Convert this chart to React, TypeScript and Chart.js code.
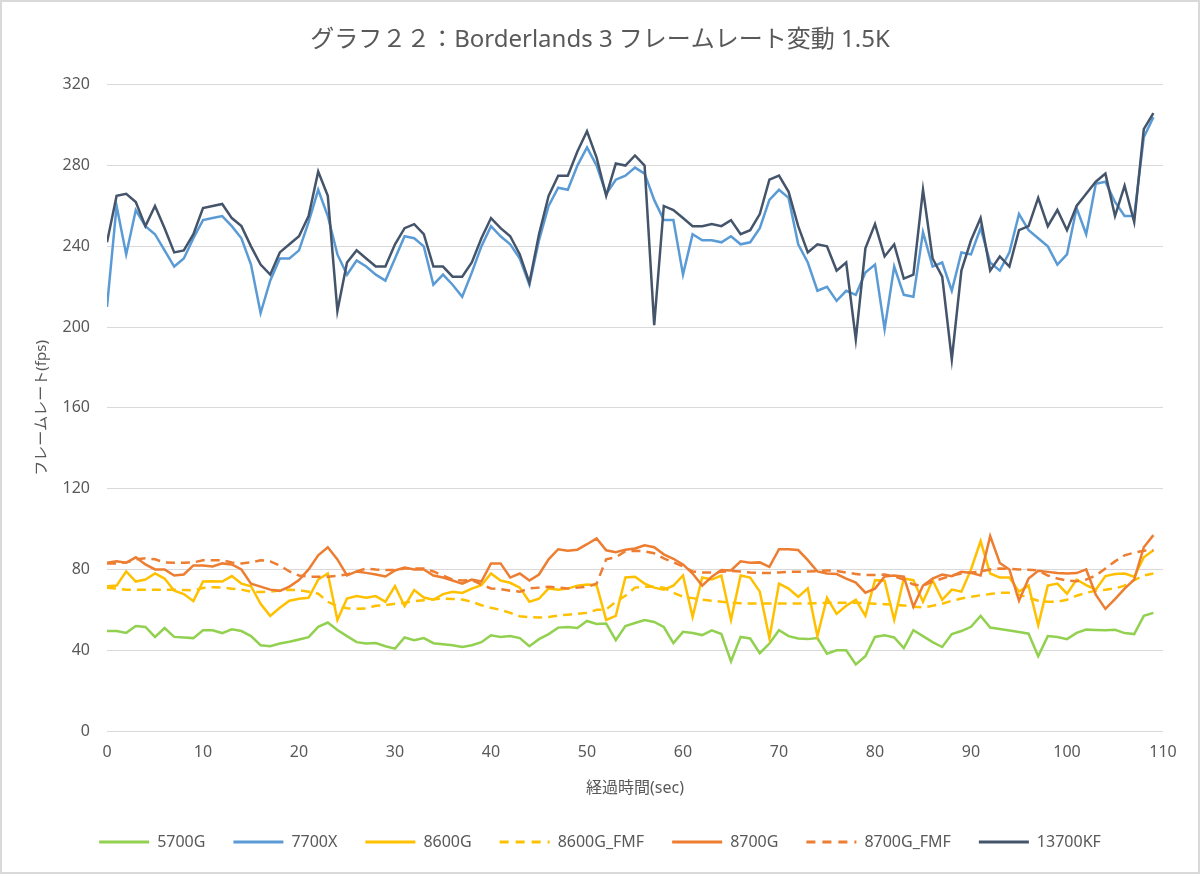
import React, { useEffect, useRef } from "react";
import { Chart, registerables } from "chart.js";

Chart.register(...registerables);

const TITLE = "グラフ２２：Borderlands 3 フレームレート変動 1.5K";
const X_TITLE = "経過時間(sec)";
const Y_TITLE = "フレームレート(fps)";
const FONT = '"Noto Sans", "Noto Sans CJK JP", sans-serif';
const TEXT_COLOR = "#595959";
const GRID_COLOR = "#d9d9d9";

const seconds = [
  0, 1, 2, 3, 4, 5, 6, 7, 8, 9, 10, 11, 12, 13, 14, 15, 16, 17, 18, 19,
  20, 21, 22, 23, 24, 25, 26, 27, 28, 29, 30, 31, 32, 33, 34, 35, 36, 37, 38, 39,
  40, 41, 42, 43, 44, 45, 46, 47, 48, 49, 50, 51, 52, 53, 54, 55, 56, 57, 58, 59,
  60, 61, 62, 63, 64, 65, 66, 67, 68, 69, 70, 71, 72, 73, 74, 75, 76, 77, 78, 79,
  80, 81, 82, 83, 84, 85, 86, 87, 88, 89, 90, 91, 92, 93, 94, 95, 96, 97, 98, 99,
  100, 101, 102, 103, 104, 105, 106, 107, 108, 109,
];

const fps5700G = [
  49.5, 49.5, 48.6, 52, 51.5, 46.6, 51, 46.6, 46.3, 46,
  49.9, 49.9, 48.5, 50.4, 49.5, 47, 42.5, 42, 43.3, 44.2,
  45.3, 46.5, 51.6, 53.7, 50, 47, 44, 43.3, 43.6, 42,
  40.8, 46.3, 45, 46, 43.5, 43, 42.5, 41.6, 42.5, 44,
  47.4, 46.6, 47, 46, 42, 45.5, 48, 51.2, 51.5, 51,
  54.5, 53, 53.2, 45, 52, 53.5, 54.9, 54, 51.5, 43.5,
  49.1, 48.5, 47.5, 49.8, 48, 34.5, 46.6, 45.8, 38.5, 43.3,
  49.9, 47, 45.8, 45.5, 46, 38.3, 40, 40, 33, 37,
  46.6, 47.4, 46.3, 41, 49.9, 47, 44, 41.6, 48, 49.5,
  51.6, 57, 51.2, 50.5, 49.8, 49, 48.2, 37, 47, 46.5,
  45.5, 48.6, 50.2, 50, 49.9, 50.1, 48.5, 48, 57, 58.5,
];

const fps7700X = [
  210, 260, 236, 258, 250, 246, 238, 230, 234, 244,
  253, 254, 255, 250, 244, 231, 207, 223, 234, 234,
  238, 252, 268, 255, 236, 226, 233, 230, 226, 223,
  234, 245, 244, 240, 221, 226, 221, 215, 227, 240,
  250, 245, 241, 234, 221, 243, 260, 269, 268, 280,
  289, 280, 266, 273, 275, 279, 276, 263, 253, 253,
  226, 246, 243, 243, 242, 245, 241, 242, 249, 263,
  268, 264, 241, 232, 218, 220, 213, 218, 216, 227,
  231, 199, 230, 216, 215, 247, 230, 232, 218, 237,
  236, 249, 232, 228, 237, 256, 248, 244, 240, 231,
  236, 259, 246, 271, 272, 262, 255, 255, 294, 304,
];

const fps8600G = [
  71.7, 72, 79, 74, 75, 78, 75.5, 69.5, 67.8, 64.3,
  74, 74.2, 74, 76.7, 73, 71.7, 63, 57, 61, 64.5,
  65.5, 66, 75, 78, 55, 65.6, 66.8, 66, 66.8, 64,
  71.7, 61.8, 69.8, 66.1, 65, 67.8, 68.9, 68.4, 70.5, 72.2,
  78, 74.5, 73.4, 71, 64, 65.5, 70.6, 70, 70.5, 72,
  72.5, 72.2, 55, 57, 76, 76.4, 73, 71, 70, 72,
  77, 56.5, 76, 75, 77, 55, 77, 76, 69, 46,
  73, 70.5, 66.4, 70.6, 47, 66, 58, 62, 65, 57,
  74.7, 74.4, 55, 75.5, 74.7, 64, 74.7, 65, 70, 69,
  80, 94, 78, 76, 76, 69, 72, 52.4, 72, 73,
  68, 75, 72.2, 70, 76.7, 77.7, 78, 76.4, 86, 89.5,
];

const fps8600G_FMF = [
  71, 70.5, 70, 70, 70, 70, 70, 70, 69.8, 69.6,
  70.8, 71.2, 71, 70.5, 70, 69, 68.8, 69, 69.6, 70,
  69.8, 69, 68, 64, 61.8, 60.8, 60.5, 60.7, 62, 62.3,
  63, 63.5, 64.3, 64.8, 65.3, 65.6, 65.4, 65.1, 64, 62.3,
  61, 60, 58.5, 56.8, 56.4, 56.2, 56.4, 57.2, 57.6, 58,
  58.5, 60, 60.2, 64, 67, 71, 71.4, 71.4, 71, 68.5,
  66.5, 65.8, 65, 64.5, 64, 63.6, 63.3, 63.1, 63.1, 63.1,
  63.1, 63.1, 63.2, 63.2, 63.3, 63.5, 63.5, 63.5, 63.5, 63.3,
  63, 62.8, 62.5, 62.2, 61.5, 61.2, 62, 63, 64.5, 65.6,
  66.5, 67.2, 67.8, 68.4, 68.4, 67.5, 66, 64.5, 64, 64,
  65, 67, 68.4, 69.5, 70, 70.6, 72, 74.7, 77, 78,
];

const fps8700G = [
  83.3, 84, 83.3, 86, 82.5, 80, 80, 77, 77.5, 82,
  82, 81.5, 83, 82.5, 80, 73, 71.5, 70, 69.4, 71.5,
  74.7, 80, 87, 91, 85, 77, 79, 78.3, 77.5, 76.5,
  79.5, 81, 80, 80, 77, 76, 74.5, 73, 75, 74,
  83, 83, 76, 78, 74.5, 77.5, 85, 90, 89.3, 89.8,
  92.5, 95.4, 89.5, 88.5, 89.8, 90.4, 92, 91, 87.5, 85.3,
  82.5, 78, 72, 76.4, 79.7, 79.5, 84, 83.3, 83.5, 81.3,
  90, 90, 89.6, 84.6, 79, 78, 77.7, 75.5, 73.5, 68.5,
  70.5, 76.5, 77, 76.4, 61.5, 72, 75.5, 77.5, 76.7, 78.8,
  78.3, 77, 96.5, 83.2, 80, 64.5, 75.5, 79.3, 78.8, 78.2,
  78, 78.2, 80, 67.5, 60.5, 65.3, 70.5, 75, 91, 97,
];

const fps8700G_FMF = [
  83, 83, 83.5, 85, 85.5, 85, 83.5, 83.3, 83.3, 83.5,
  84.5, 84.6, 84.6, 83.5, 83, 83.5, 84.6, 84, 82, 79,
  77, 76.4, 76.4, 76.4, 76.8, 77.5, 79, 80.5, 80, 79.7,
  79.7, 80.5, 80.5, 80.5, 79, 77, 75, 74.5, 74.7, 72.5,
  70.6, 70.3, 69.5, 69, 70.6, 71, 71.4, 71, 70.6, 71,
  71.4, 73, 85, 86, 89, 89.3, 89, 88, 85.5, 83.5,
  81.5, 79, 78.5, 78.5, 78.8, 79.2, 79, 78.5, 78.3, 78.3,
  78.5, 78.8, 78.8, 79, 79.2, 79.5, 79.3, 78.5, 77.8, 77.2,
  77.2, 77.5, 76.5, 75, 72.5, 72, 74, 75.5, 77, 78,
  78.5, 79, 80, 80.5, 80.3, 80, 79.8, 79.5, 77, 75.5,
  74.5, 74.2, 75, 77, 80.5, 84, 87, 88.3, 89.3, 89.5,
];

const fps13700KF = [
  242, 265, 266, 262, 250, 260, 249, 237, 238, 246,
  259, 260, 261, 254, 250, 240, 231, 226, 237, 241,
  245, 255, 277, 265, 208, 232, 238, 234, 230, 230,
  241, 249, 251, 246, 230, 230, 225, 225, 232, 244,
  254, 249, 245, 236, 222, 246, 265, 275, 275, 287,
  297, 284, 265, 281, 280, 285, 280, 201, 260, 258,
  254, 250, 250, 251, 250, 253, 246, 248, 256, 273,
  275, 267, 250, 237, 241, 240, 228, 232, 194, 239,
  251, 235, 241, 224, 226, 268, 234, 225, 184, 228,
  243, 254, 228, 235, 230, 248, 250, 264, 250, 258,
  248, 260, 266, 272, 276, 255, 270, 252, 298, 306,
];

const seriesLabels = ["5700G", "7700X", "8600G", "8600G_FMF", "8700G", "8700G_FMF", "13700KF"];
const seriesValues = [fps5700G, fps7700X, fps8600G, fps8600G_FMF, fps8700G, fps8700G_FMF, fps13700KF];
const seriesColors = ["#92d050", "#5b9bd5", "#ffc000", "#ffc000", "#ed7d31", "#ed7d31", "#44546a"];
const seriesDashed = [false, false, false, true, false, true, false];

const yTicks = { min: 0, max: 320, step: 40 };
const xTicks = { min: 0, max: 110, step: 10 };

export default function App() {
  const canvasRef = useRef<HTMLCanvasElement | null>(null);

  useEffect(() => {
    document.body.style.margin = "0";
    const canvas = canvasRef.current;
    if (!canvas) return;

    const datasets = seriesLabels.map((label, i) => ({
      label,
      data: seconds.map((t, k) => ({ x: t, y: seriesValues[i][k] })),
      borderColor: seriesColors[i],
      backgroundColor: seriesColors[i],
      borderWidth: 2.5,
      borderDash: seriesDashed[i] ? [9, 6] : [],
      pointRadius: 0,
      pointHoverRadius: 0,
      tension: 0,
      fill: false,
      order: seriesLabels.length - 1 - i,
    }));

    const defaultLabels = (Chart as any).defaults.plugins.legend.labels.generateLabels;

    const chart = new Chart(canvas, {
      type: "line",
      data: { datasets },
      options: {
        animation: false,
        responsive: false,
        devicePixelRatio: 1,
        layout: { padding: { left: 37, right: 37, top: 0, bottom: 14 } },
        plugins: {
          tooltip: { enabled: false },
          title: {
            display: true,
            text: TITLE,
            color: TEXT_COLOR,
            font: { family: FONT, size: 24, weight: "normal" },
            padding: { top: 26, bottom: 30 },
          },
          legend: {
            position: "bottom",
            labels: {
              color: TEXT_COLOR,
              font: { family: FONT, size: 16 },
              usePointStyle: true,
              pointStyle: "line",
              pointStyleWidth: 50,
              padding: 28,
              sort: (a: any, b: any) => a.datasetIndex - b.datasetIndex,
              generateLabels: (ch: any) =>
                defaultLabels(ch).map((it: any) => ({
                  ...it,
                  pointStyle: "line",
                  lineWidth: 3,
                  strokeStyle: seriesColors[it.datasetIndex],
                  fillStyle: seriesColors[it.datasetIndex],
                  lineDash: seriesDashed[it.datasetIndex] ? [9, 7] : [],
                })),
            },
          },
        },
        scales: {
          x: {
            type: "linear",
            min: xTicks.min,
            max: xTicks.max,
            grid: { display: false, drawTicks: false },
            border: { display: false },
            ticks: {
              stepSize: xTicks.step,
              color: TEXT_COLOR,
              font: { family: FONT, size: 16 },
              padding: 12,
              maxRotation: 0,
            },
            title: {
              display: true,
              text: X_TITLE,
              color: TEXT_COLOR,
              font: { family: FONT, size: 16 },
              padding: { top: 0, bottom: 8 },
            },
            afterFit: (scale: any) => {
              scale.height = 75;
            },
          },
          y: {
            type: "linear",
            min: yTicks.min,
            max: yTicks.max,
            grid: { color: GRID_COLOR, lineWidth: 1, drawTicks: false },
            border: { display: false },
            ticks: {
              stepSize: yTicks.step,
              color: TEXT_COLOR,
              font: { family: FONT, size: 16 },
              padding: 17,
            },
            title: {
              display: true,
              text: Y_TITLE,
              color: TEXT_COLOR,
              font: { family: FONT, size: 15 },
              padding: { top: -4, bottom: 0 },
            },
            afterFit: (scale: any) => {
              scale.width = 70;
            },
          },
        },
      },
    });

    return () => {
      chart.destroy();
    };
  }, []);

  return (
    <div style={{ position: "relative", width: 1200, height: 874, background: "#fff" }}>
      <canvas ref={canvasRef} width={1200} height={874} style={{ display: "block", width: 1200, height: 874 }} />
      <div
        style={{
          position: "absolute",
          left: 0,
          top: 0,
          width: 1200,
          height: 874,
          boxSizing: "border-box",
          border: "2px solid #d9d9d9",
          pointerEvents: "none",
        }}
      />
    </div>
  );
}
